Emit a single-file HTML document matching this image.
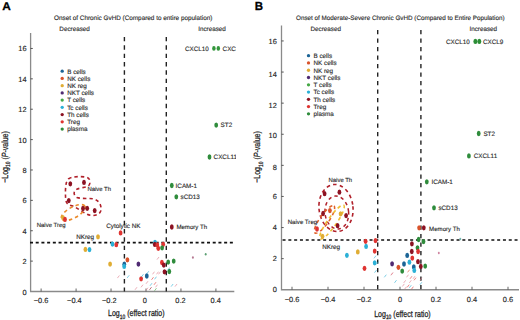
<!DOCTYPE html>
<html><head><meta charset="utf-8"><style>
html,body{margin:0;padding:0;background:#fff;width:520px;height:320px;overflow:hidden;position:relative;font-family:"Liberation Sans", sans-serif;}
</style></head><body>
<svg width="520" height="320" viewBox="0 0 520 320" text-rendering="geometricPrecision" style="position:absolute;left:0;top:0;font-family:'Liberation Sans', sans-serif">
<rect width="520" height="320" fill="#fff"/>
<g>
<path d="M30.6 33 V291.5 H234.3" fill="none" stroke="#8a8a8a" stroke-width="1.3"/>
<text x="26.6" y="294.5" font-size="7.4" text-anchor="end" fill="#222" stroke="#222" stroke-width="0.13">0</text>
<line x1="30.6" y1="261.12" x2="32.8" y2="261.12" stroke="#444" stroke-width="0.9"/>
<text x="26.6" y="264.12" font-size="7.4" text-anchor="end" fill="#222" stroke="#222" stroke-width="0.13">2</text>
<line x1="30.6" y1="230.74" x2="32.8" y2="230.74" stroke="#444" stroke-width="0.9"/>
<text x="26.6" y="233.74" font-size="7.4" text-anchor="end" fill="#222" stroke="#222" stroke-width="0.13">4</text>
<line x1="30.6" y1="200.36" x2="32.8" y2="200.36" stroke="#444" stroke-width="0.9"/>
<text x="26.6" y="203.36" font-size="7.4" text-anchor="end" fill="#222" stroke="#222" stroke-width="0.13">6</text>
<line x1="30.6" y1="169.98" x2="32.8" y2="169.98" stroke="#444" stroke-width="0.9"/>
<text x="26.6" y="172.98" font-size="7.4" text-anchor="end" fill="#222" stroke="#222" stroke-width="0.13">8</text>
<line x1="30.6" y1="139.6" x2="32.8" y2="139.6" stroke="#444" stroke-width="0.9"/>
<text x="26.6" y="142.6" font-size="7.4" text-anchor="end" fill="#222" stroke="#222" stroke-width="0.13">10</text>
<line x1="30.6" y1="109.22" x2="32.8" y2="109.22" stroke="#444" stroke-width="0.9"/>
<text x="26.6" y="112.22" font-size="7.4" text-anchor="end" fill="#222" stroke="#222" stroke-width="0.13">12</text>
<line x1="30.6" y1="78.84" x2="32.8" y2="78.84" stroke="#444" stroke-width="0.9"/>
<text x="26.6" y="81.84" font-size="7.4" text-anchor="end" fill="#222" stroke="#222" stroke-width="0.13">14</text>
<line x1="30.6" y1="48.46" x2="32.8" y2="48.46" stroke="#444" stroke-width="0.9"/>
<text x="26.6" y="51.46" font-size="7.4" text-anchor="end" fill="#222" stroke="#222" stroke-width="0.13">16</text>
<line x1="41.12" y1="291.5" x2="41.12" y2="288.5" stroke="#555" stroke-width="0.9"/>
<text x="41.1" y="302.5" font-size="7.4" text-anchor="middle" fill="#222" stroke="#222" stroke-width="0.13">−0.6</text>
<line x1="76.08" y1="291.5" x2="76.08" y2="288.5" stroke="#555" stroke-width="0.9"/>
<text x="74.4" y="302.5" font-size="7.4" text-anchor="middle" fill="#222" stroke="#222" stroke-width="0.13">−0.4</text>
<line x1="111.04" y1="291.5" x2="111.04" y2="288.5" stroke="#555" stroke-width="0.9"/>
<text x="109.3" y="302.5" font-size="7.4" text-anchor="middle" fill="#222" stroke="#222" stroke-width="0.13">−0.2</text>
<line x1="146.0" y1="291.5" x2="146.0" y2="288.5" stroke="#555" stroke-width="0.9"/>
<text x="144.75" y="302.5" font-size="7.4" text-anchor="middle" fill="#222" stroke="#222" stroke-width="0.13">0</text>
<line x1="180.96" y1="291.5" x2="180.96" y2="288.5" stroke="#555" stroke-width="0.9"/>
<text x="180.5" y="302.5" font-size="7.4" text-anchor="middle" fill="#222" stroke="#222" stroke-width="0.13">0.2</text>
<line x1="215.92" y1="291.5" x2="215.92" y2="288.5" stroke="#555" stroke-width="0.9"/>
<text x="215.75" y="302.5" font-size="7.4" text-anchor="middle" fill="#222" stroke="#222" stroke-width="0.13">0.4</text>
<line x1="124.4" y1="36.95" x2="124.4" y2="291.5" stroke="#222" stroke-width="1.4" stroke-dasharray="4.4 3.95"/>
<line x1="166.3" y1="36.95" x2="166.3" y2="291.5" stroke="#222" stroke-width="1.4" stroke-dasharray="4.4 3.95"/>
<line x1="30.0" y1="242.6" x2="233.2" y2="242.6" stroke="#111" stroke-width="1.6" stroke-dasharray="3 2.71"/>
</g>
<path d="M281.5 25.6 V289.75 H519" fill="none" stroke="#8a8a8a" stroke-width="1.3"/>
<text x="276.8" y="292.45" font-size="7.4" text-anchor="end" fill="#222" stroke="#222" stroke-width="0.13">0</text>
<line x1="281.5" y1="258.65" x2="283.7" y2="258.65" stroke="#444" stroke-width="0.9"/>
<text x="276.8" y="261.35" font-size="7.4" text-anchor="end" fill="#222" stroke="#222" stroke-width="0.13">2</text>
<line x1="281.5" y1="227.55" x2="283.7" y2="227.55" stroke="#444" stroke-width="0.9"/>
<text x="276.8" y="230.25" font-size="7.4" text-anchor="end" fill="#222" stroke="#222" stroke-width="0.13">4</text>
<line x1="281.5" y1="196.45" x2="283.7" y2="196.45" stroke="#444" stroke-width="0.9"/>
<text x="276.8" y="199.15" font-size="7.4" text-anchor="end" fill="#222" stroke="#222" stroke-width="0.13">6</text>
<line x1="281.5" y1="165.35" x2="283.7" y2="165.35" stroke="#444" stroke-width="0.9"/>
<text x="276.8" y="169.55" font-size="7.4" text-anchor="end" fill="#222" stroke="#222" stroke-width="0.13">8</text>
<line x1="281.5" y1="134.25" x2="283.7" y2="134.25" stroke="#444" stroke-width="0.9"/>
<text x="276.8" y="138.45" font-size="7.4" text-anchor="end" fill="#222" stroke="#222" stroke-width="0.13">10</text>
<line x1="281.5" y1="103.15" x2="283.7" y2="103.15" stroke="#444" stroke-width="0.9"/>
<text x="276.8" y="107.85" font-size="7.4" text-anchor="end" fill="#222" stroke="#222" stroke-width="0.13">12</text>
<line x1="281.5" y1="72.05" x2="283.7" y2="72.05" stroke="#444" stroke-width="0.9"/>
<text x="276.8" y="77.05" font-size="7.4" text-anchor="end" fill="#222" stroke="#222" stroke-width="0.13">14</text>
<line x1="281.5" y1="40.95" x2="283.7" y2="40.95" stroke="#444" stroke-width="0.9"/>
<text x="276.8" y="43.85" font-size="7.4" text-anchor="end" fill="#222" stroke="#222" stroke-width="0.13">16</text>
<line x1="292.0" y1="289.75" x2="292.0" y2="286.75" stroke="#555" stroke-width="0.9"/>
<text x="292.0" y="302.3" font-size="7.4" text-anchor="middle" fill="#222" stroke="#222" stroke-width="0.13">−0.6</text>
<line x1="328.0" y1="289.75" x2="328.0" y2="286.75" stroke="#555" stroke-width="0.9"/>
<text x="328.0" y="302.3" font-size="7.4" text-anchor="middle" fill="#222" stroke="#222" stroke-width="0.13">−0.4</text>
<line x1="364.0" y1="289.75" x2="364.0" y2="286.75" stroke="#555" stroke-width="0.9"/>
<text x="364.0" y="302.3" font-size="7.4" text-anchor="middle" fill="#222" stroke="#222" stroke-width="0.13">−0.2</text>
<line x1="400" y1="289.75" x2="400" y2="286.75" stroke="#555" stroke-width="0.9"/>
<text x="400" y="302.3" font-size="7.4" text-anchor="middle" fill="#222" stroke="#222" stroke-width="0.13">0</text>
<line x1="436.0" y1="289.75" x2="436.0" y2="286.75" stroke="#555" stroke-width="0.9"/>
<text x="436.0" y="302.3" font-size="7.4" text-anchor="middle" fill="#222" stroke="#222" stroke-width="0.13">0.2</text>
<line x1="472.0" y1="289.75" x2="472.0" y2="286.75" stroke="#555" stroke-width="0.9"/>
<text x="472.0" y="302.3" font-size="7.4" text-anchor="middle" fill="#222" stroke="#222" stroke-width="0.13">0.4</text>
<line x1="508.0" y1="289.75" x2="508.0" y2="286.75" stroke="#555" stroke-width="0.9"/>
<text x="508.0" y="302.3" font-size="7.4" text-anchor="middle" fill="#222" stroke="#222" stroke-width="0.13">0.6</text>
<line x1="377.7" y1="30.1" x2="377.7" y2="289.75" stroke="#222" stroke-width="1.4" stroke-dasharray="4.1 4.4"/>
<line x1="420.9" y1="30.1" x2="420.9" y2="289.75" stroke="#222" stroke-width="1.4" stroke-dasharray="4.1 4.4"/>
<line x1="282.55" y1="240.0" x2="520" y2="240.0" stroke="#111" stroke-width="1.6" stroke-dasharray="3 2.8"/>
<text transform="translate(2.2 9.9) scale(1.06 1)" font-size="11.2" font-weight="bold" fill="#000" stroke="#000" stroke-width="0.28">A</text>
<text transform="translate(254.7 10.1) scale(0.97 1)" font-size="11.8" font-weight="bold" fill="#000" stroke="#000" stroke-width="0.31">B</text>
<text x="133.2" y="19.5" font-size="6.37" text-anchor="middle" fill="#2b2b2b" stroke="#2b2b2b" stroke-width="0.13">Onset of Chronic GvHD (Compared to entire population)</text>
<text x="400.3" y="19.5" font-size="6.31" text-anchor="middle" fill="#2b2b2b" stroke="#2b2b2b" stroke-width="0.13">Onset of Moderate-Severe Chronic GvHD (Compared to Entire Population)</text>
<text x="74.6" y="31.1" font-size="6.3" text-anchor="middle" fill="#2b2b2b" stroke="#2b2b2b" stroke-width="0.13">Decreased</text>
<text x="212" y="31.1" font-size="6.3" text-anchor="middle" fill="#2b2b2b" stroke="#2b2b2b" stroke-width="0.13">Increased</text>
<text x="325.8" y="31.2" font-size="6.3" text-anchor="middle" fill="#2b2b2b" stroke="#2b2b2b" stroke-width="0.13">Decreased</text>
<text x="483.3" y="31.2" font-size="6.3" text-anchor="middle" fill="#2b2b2b" stroke="#2b2b2b" stroke-width="0.13">Increased</text>
<text transform="translate(136.3 316.3) scale(0.78 1)" font-size="9" text-anchor="middle" fill="#222" stroke="#222" stroke-width="0.26">Log<tspan font-size="6.3" dy="2.2">10</tspan><tspan dy="-2.2"> (effect ratio)</tspan></text>
<text transform="translate(402.4 316.5) scale(0.78 1)" font-size="9" text-anchor="middle" fill="#222" stroke="#222" stroke-width="0.26">Log<tspan font-size="6.3" dy="2.2">10</tspan><tspan dy="-2.2"> (effect ratio)</tspan></text>
<text transform="translate(7.7 157) rotate(-90) scale(0.78 1)" font-size="9" text-anchor="middle" fill="#222" stroke="#222" stroke-width="0.26">−Log<tspan font-size="6.3" dy="2.2">10</tspan><tspan dy="-2.2"> (</tspan><tspan font-style="italic">P</tspan>-value)</text>
<text transform="translate(260.3 157) rotate(-90) scale(0.78 1)" font-size="9" text-anchor="middle" fill="#222" stroke="#222" stroke-width="0.26">−Log<tspan font-size="6.3" dy="2.2">10</tspan><tspan dy="-2.2"> (</tspan><tspan font-style="italic">P</tspan>-value)</text>
<circle cx="62.2" cy="71.2" r="1.65" fill="#1b6496"/>
<text x="67.2" y="73.5" font-size="6.3" fill="#2b2b2b" stroke="#2b2b2b" stroke-width="0.13">B cells</text>
<circle cx="62.2" cy="78.43" r="1.65" fill="#d9532b"/>
<text x="67.2" y="80.73" font-size="6.3" fill="#2b2b2b" stroke="#2b2b2b" stroke-width="0.13">NK cells</text>
<circle cx="62.2" cy="85.66" r="1.65" fill="#e0ad34"/>
<text x="67.2" y="87.96" font-size="6.3" fill="#2b2b2b" stroke="#2b2b2b" stroke-width="0.13">NK reg</text>
<circle cx="62.2" cy="92.89" r="1.65" fill="#4f2a72"/>
<text x="67.2" y="95.19" font-size="6.3" fill="#2b2b2b" stroke="#2b2b2b" stroke-width="0.13">NKT cells</text>
<circle cx="62.2" cy="100.12" r="1.65" fill="#45a845"/>
<text x="67.2" y="102.42" font-size="6.3" fill="#2b2b2b" stroke="#2b2b2b" stroke-width="0.13">T cells</text>
<circle cx="62.2" cy="107.35" r="1.65" fill="#2bb0d6"/>
<text x="67.2" y="109.65" font-size="6.3" fill="#2b2b2b" stroke="#2b2b2b" stroke-width="0.13">Tc cells</text>
<circle cx="62.2" cy="114.58" r="1.65" fill="#8c1222"/>
<text x="67.2" y="116.88" font-size="6.3" fill="#2b2b2b" stroke="#2b2b2b" stroke-width="0.13">Th cells</text>
<circle cx="62.2" cy="121.81" r="1.65" fill="#df3431"/>
<text x="67.2" y="124.11" font-size="6.3" fill="#2b2b2b" stroke="#2b2b2b" stroke-width="0.13">Treg</text>
<circle cx="62.2" cy="129.04" r="1.65" fill="#2f8c3c"/>
<text x="67.2" y="131.34" font-size="6.3" fill="#2b2b2b" stroke="#2b2b2b" stroke-width="0.13">plasma</text>
<circle cx="308.5" cy="55.7" r="1.65" fill="#1b6496"/>
<text x="313.5" y="58.0" font-size="6.3" fill="#2b2b2b" stroke="#2b2b2b" stroke-width="0.13">B cells</text>
<circle cx="308.5" cy="62.97" r="1.65" fill="#d9532b"/>
<text x="313.5" y="65.27" font-size="6.3" fill="#2b2b2b" stroke="#2b2b2b" stroke-width="0.13">NK cells</text>
<circle cx="308.5" cy="70.24" r="1.65" fill="#e0ad34"/>
<text x="313.5" y="72.54" font-size="6.3" fill="#2b2b2b" stroke="#2b2b2b" stroke-width="0.13">NK reg</text>
<circle cx="308.5" cy="77.51" r="1.65" fill="#4f2a72"/>
<text x="313.5" y="79.81" font-size="6.3" fill="#2b2b2b" stroke="#2b2b2b" stroke-width="0.13">NKT cells</text>
<circle cx="308.5" cy="84.78" r="1.65" fill="#45a845"/>
<text x="313.5" y="87.08" font-size="6.3" fill="#2b2b2b" stroke="#2b2b2b" stroke-width="0.13">T cells</text>
<circle cx="308.5" cy="92.05" r="1.65" fill="#2bb0d6"/>
<text x="313.5" y="94.35" font-size="6.3" fill="#2b2b2b" stroke="#2b2b2b" stroke-width="0.13">Tc cells</text>
<circle cx="308.5" cy="99.32" r="1.65" fill="#8c1222"/>
<text x="313.5" y="101.62" font-size="6.3" fill="#2b2b2b" stroke="#2b2b2b" stroke-width="0.13">Th cells</text>
<circle cx="308.5" cy="106.59" r="1.65" fill="#df3431"/>
<text x="313.5" y="108.89" font-size="6.3" fill="#2b2b2b" stroke="#2b2b2b" stroke-width="0.13">Treg</text>
<circle cx="308.5" cy="113.86" r="1.65" fill="#2f8c3c"/>
<text x="313.5" y="116.16" font-size="6.3" fill="#2b2b2b" stroke="#2b2b2b" stroke-width="0.13">plasma</text>
<defs><clipPath id="ca"><rect x="0" y="0" width="236" height="320"/></clipPath></defs>
<g clip-path="url(#ca)">
<path d="M68.4 179 C72 176.5 80 176 86.5 177.2 C90.5 178.2 91 183.5 88.5 185.8 C86 187.5 80 187.6 76.5 189.4 C73 191.5 73.5 195.5 77 197.5 C81 199 88 198 93 198.8 C99 200 101.5 205 101 210 C100.5 214 96 216 91 215.4 C85 214.5 79 209 74 206.5 C70 205 66.5 205 65.8 200 C65.2 194 65.3 187 66.4 182.5 Z" fill="none" stroke="#b0202a" stroke-width="1.6" stroke-dasharray="3.4 3.0"/>
<ellipse cx="73.2" cy="212.6" rx="13.4" ry="5.4" transform="rotate(-29 73.2 212.6)" fill="none" stroke="#eb8a2a" stroke-width="1.6" stroke-dasharray="3.4 3.0"/>
<ellipse cx="216.2" cy="125.1" rx="1.9" ry="2.65" fill="#2f8c3c"/>
<ellipse cx="209.5" cy="157" rx="1.9" ry="2.65" fill="#2f8c3c"/>
<ellipse cx="171.8" cy="185.5" rx="1.9" ry="2.65" fill="#2f8c3c"/>
<ellipse cx="176.3" cy="196.8" rx="1.9" ry="2.65" fill="#2f8c3c"/>
<ellipse cx="171.8" cy="227" rx="1.9" ry="2.65" fill="#8c1222"/>
<ellipse cx="70.3" cy="183.8" rx="1.9" ry="2.65" fill="#8c1222"/>
<ellipse cx="84" cy="182.4" rx="1.9" ry="2.65" fill="#8c1222"/>
<ellipse cx="68.8" cy="200.6" rx="1.9" ry="2.65" fill="#8c1222"/>
<ellipse cx="83" cy="208.5" rx="1.9" ry="2.65" fill="#8c1222"/>
<ellipse cx="87.2" cy="208.3" rx="1.9" ry="2.65" fill="#8c1222"/>
<ellipse cx="94.7" cy="210.6" rx="1.9" ry="2.65" fill="#8c1222"/>
<ellipse cx="62.9" cy="217.6" rx="1.9" ry="2.65" fill="#e0ad34"/>
<ellipse cx="65" cy="219.4" rx="1.9" ry="2.65" fill="#df3431"/>
<ellipse cx="98" cy="236.8" rx="1.9" ry="2.65" fill="#e0ad34"/>
<ellipse cx="120.6" cy="232.9" rx="1.9" ry="2.65" fill="#df3431"/>
<ellipse cx="112.5" cy="244.1" rx="1.9" ry="2.65" fill="#2bb0d6"/>
<ellipse cx="116.3" cy="244.7" rx="1.9" ry="2.65" fill="#df3431"/>
<ellipse cx="85.4" cy="249.4" rx="1.9" ry="2.65" fill="#e0ad34"/>
<ellipse cx="89.5" cy="249.6" rx="1.9" ry="2.65" fill="#2bb0d6"/>
<ellipse cx="155.0" cy="242.4" rx="1.9" ry="2.65" fill="#2bb0d6"/>
<ellipse cx="154.8" cy="244.4" rx="1.9" ry="2.65" fill="#8c1222"/>
<ellipse cx="157.3" cy="245" rx="1.9" ry="2.65" fill="#df3431"/>
<ellipse cx="163.2" cy="244.3" rx="1.9" ry="2.65" fill="#df3431"/>
<ellipse cx="158.3" cy="248.3" rx="1.9" ry="2.65" fill="#df3431"/>
<ellipse cx="162.1" cy="247.8" rx="1.9" ry="2.65" fill="#2f8c3c"/>
<ellipse cx="127.4" cy="259.8" rx="1.9" ry="2.65" fill="#d9532b"/>
<ellipse cx="110.1" cy="264.1" rx="1.9" ry="2.65" fill="#e0ad34"/>
<ellipse cx="124.3" cy="264.2" rx="1.9" ry="2.65" fill="#1b6496"/>
<ellipse cx="124.2" cy="266.4" rx="1.9" ry="2.65" fill="#2bb0d6"/>
<ellipse cx="138.4" cy="264.1" rx="1.9" ry="2.65" fill="#4f2a72"/>
<ellipse cx="161.9" cy="262.5" rx="1.9" ry="2.65" fill="#df3431"/>
<ellipse cx="163.8" cy="265.1" rx="1.9" ry="2.65" fill="#8c1222"/>
<ellipse cx="168.2" cy="262.1" rx="1.9" ry="2.65" fill="#2f8c3c"/>
<ellipse cx="173.7" cy="261.1" rx="1.9" ry="2.65" fill="#2f8c3c"/>
<ellipse cx="164.5" cy="271.8" rx="1.9" ry="2.65" fill="#8c1222"/>
<ellipse cx="169.3" cy="271.5" rx="1.9" ry="2.65" fill="#2f8c3c"/>
<ellipse cx="141.1" cy="278.8" rx="1.9" ry="2.65" fill="#df3431"/>
<ellipse cx="146.8" cy="276" rx="1.9" ry="2.65" fill="#1b6496"/>
<ellipse cx="213.9" cy="48.4" rx="1.75" ry="2.45" fill="#34963c"/>
<ellipse cx="218.3" cy="48.4" rx="1.75" ry="2.45" fill="#34963c"/>
<line x1="117.4" y1="278.1" x2="119.4" y2="275.5" stroke="#e07a8a" stroke-width="0.8" opacity="0.75"/>
<line x1="127.2" y1="277.9" x2="129.2" y2="275.3" stroke="#2bb0d6" stroke-width="0.8" opacity="0.75"/>
<line x1="157.0" y1="259.6" x2="159.0" y2="257.0" stroke="#e07a8a" stroke-width="0.8" opacity="0.75"/>
<line x1="171.1" y1="286.6" x2="173.1" y2="284.0" stroke="#2bb0d6" stroke-width="0.8" opacity="0.75"/>
<line x1="175.0" y1="286.6" x2="177.0" y2="284.0" stroke="#e07a8a" stroke-width="0.8" opacity="0.75"/>
<line x1="152.5" y1="274.3" x2="154.5" y2="271.7" stroke="#e07a8a" stroke-width="0.8" opacity="0.75"/>
<line x1="156.5" y1="274.3" x2="158.5" y2="271.7" stroke="#e07a8a" stroke-width="0.8" opacity="0.75"/>
<line x1="151.5" y1="279.8" x2="153.5" y2="277.2" stroke="#df3431" stroke-width="0.8" opacity="0.75"/>
<line x1="154.5" y1="279.3" x2="156.5" y2="276.7" stroke="#2bb0d6" stroke-width="0.8" opacity="0.75"/>
<line x1="158.5" y1="274.3" x2="160.5" y2="271.7" stroke="#e07a8a" stroke-width="0.8" opacity="0.75"/>
<line x1="146.0" y1="283.8" x2="148.0" y2="281.2" stroke="#e07a8a" stroke-width="0.8" opacity="0.75"/>
<line x1="141.0" y1="287.3" x2="143.0" y2="284.7" stroke="#e07a8a" stroke-width="0.8" opacity="0.75"/>
<line x1="150.0" y1="285.8" x2="152.0" y2="283.2" stroke="#2bb0d6" stroke-width="0.8" opacity="0.75"/>
<line x1="154.0" y1="284.8" x2="156.0" y2="282.2" stroke="#df3431" stroke-width="0.8" opacity="0.75"/>
<line x1="155.5" y1="287.3" x2="157.5" y2="284.7" stroke="#e07a8a" stroke-width="0.8" opacity="0.75"/>
<line x1="146.0" y1="290.3" x2="148.0" y2="287.7" stroke="#e07a8a" stroke-width="0.8" opacity="0.75"/>
<line x1="149.5" y1="289.8" x2="151.5" y2="287.2" stroke="#8c1222" stroke-width="0.8" opacity="0.75"/>
<line x1="154.5" y1="290.8" x2="156.5" y2="288.2" stroke="#45a845" stroke-width="0.8" opacity="0.75"/>
<line x1="135.0" y1="289.8" x2="137.0" y2="287.2" stroke="#e07a8a" stroke-width="0.8" opacity="0.75"/>
<line x1="141.5" y1="276.8" x2="143.5" y2="274.2" stroke="#2bb0d6" stroke-width="0.8" opacity="0.75"/>
<line x1="146.8" y1="273.8" x2="148.8" y2="271.2" stroke="#2bb0d6" stroke-width="0.8" opacity="0.75"/>
<line x1="167.8" y1="270.1" x2="169.8" y2="267.5" stroke="#2bb0d6" stroke-width="0.8" opacity="0.75"/>
<ellipse cx="192.9" cy="257.4" rx="0.95" ry="1.25" fill="#a8607e" opacity="0.85"/>
<ellipse cx="205.7" cy="254.3" rx="0.95" ry="1.25" fill="#3f8f5a" opacity="0.85"/>
<text x="185" y="50.5" font-size="6.3" fill="#2b2b2b" stroke="#2b2b2b" stroke-width="0.13">CXCL10</text>
<text x="222.6" y="50.5" font-size="6.3" fill="#2b2b2b" stroke="#2b2b2b" stroke-width="0.13">CXCL9</text>
<text x="220.6" y="127.4" font-size="6.3" fill="#2b2b2b" stroke="#2b2b2b" stroke-width="0.13">ST2</text>
<text x="213.6" y="159.3" font-size="6.3" fill="#2b2b2b" stroke="#2b2b2b" stroke-width="0.13">CXCL11</text>
<text x="175.6" y="187.8" font-size="6.3" fill="#2b2b2b" stroke="#2b2b2b" stroke-width="0.13">ICAM-1</text>
<text x="180.6" y="199.1" font-size="6.3" fill="#2b2b2b" stroke="#2b2b2b" stroke-width="0.13">sCD13</text>
<text x="176.4" y="229.2" font-size="6.1" fill="#2b2b2b" stroke="#2b2b2b" stroke-width="0.13">Memory Th</text>
<text x="87.4" y="190.9" font-size="5.95" fill="#2b2b2b" stroke="#2b2b2b" stroke-width="0.13">Naive Th</text>
<text x="36.7" y="227.3" font-size="6.0" fill="#2b2b2b" stroke="#2b2b2b" stroke-width="0.13">Naive Treg</text>
<text x="76.2" y="238.6" font-size="6.3" fill="#2b2b2b" stroke="#2b2b2b" stroke-width="0.13">NKreg</text>
<text x="106.2" y="227.8" font-size="6.3" fill="#2b2b2b" stroke="#2b2b2b" stroke-width="0.13">Cytolytic NK</text>
</g>
<ellipse cx="336" cy="208" rx="17" ry="23.6" transform="rotate(-6 336 208)" fill="none" stroke="#b0202a" stroke-width="1.6" stroke-dasharray="3.6 3.2"/>
<ellipse cx="336.8" cy="212.5" rx="11.8" ry="16.5" transform="rotate(-6 336.8 212.5)" fill="none" stroke="#b0202a" stroke-width="1.5" stroke-dasharray="3.4 3.2"/>
<ellipse cx="324.5" cy="219.5" rx="16.5" ry="4.6" transform="rotate(-55 324.5 219.5)" fill="none" stroke="#e0622a" stroke-width="1.6" stroke-dasharray="3.4 3.2"/>
<ellipse cx="332" cy="222" rx="20.5" ry="4.5" transform="rotate(-55 332 222)" fill="none" stroke="#efbd35" stroke-width="1.6" stroke-dasharray="3.4 3.2"/>
<ellipse cx="478.7" cy="133.5" rx="1.9" ry="2.65" fill="#2f8c3c"/>
<ellipse cx="468.9" cy="155.9" rx="1.9" ry="2.65" fill="#2f8c3c"/>
<ellipse cx="426.8" cy="181.8" rx="1.9" ry="2.65" fill="#2f8c3c"/>
<ellipse cx="434" cy="207.8" rx="1.9" ry="2.65" fill="#2f8c3c"/>
<ellipse cx="419.1" cy="227.8" rx="1.9" ry="2.65" fill="#d9532b"/>
<ellipse cx="423.8" cy="227.8" rx="1.9" ry="2.65" fill="#8c1222"/>
<ellipse cx="324.6" cy="193.7" rx="1.9" ry="2.65" fill="#8c1222"/>
<ellipse cx="339.4" cy="192.2" rx="1.9" ry="2.65" fill="#8c1222"/>
<ellipse cx="323.1" cy="213.5" rx="1.9" ry="2.65" fill="#8c1222"/>
<ellipse cx="329.9" cy="210.6" rx="1.9" ry="2.65" fill="#d9532b"/>
<ellipse cx="340.6" cy="213.8" rx="1.9" ry="2.65" fill="#e0ad34"/>
<ellipse cx="346.1" cy="215.6" rx="1.9" ry="2.65" fill="#8c1222"/>
<ellipse cx="337.6" cy="225.7" rx="1.9" ry="2.65" fill="#8c1222"/>
<ellipse cx="317" cy="229" rx="1.9" ry="2.65" fill="#df3431"/>
<ellipse cx="322.5" cy="236.3" rx="1.9" ry="2.65" fill="#e0ad34"/>
<ellipse cx="365.6" cy="241.3" rx="1.9" ry="2.65" fill="#df3431"/>
<ellipse cx="375.5" cy="240.6" rx="1.9" ry="2.65" fill="#df3431"/>
<ellipse cx="366.1" cy="246.4" rx="1.9" ry="2.65" fill="#2bb0d6"/>
<ellipse cx="357.8" cy="251.9" rx="1.9" ry="2.65" fill="#e0ad34"/>
<ellipse cx="374.7" cy="251.1" rx="1.9" ry="2.65" fill="#df3431"/>
<ellipse cx="346.9" cy="255.3" rx="1.9" ry="2.65" fill="#2bb0d6"/>
<ellipse cx="374.7" cy="262.8" rx="1.9" ry="2.65" fill="#2bb0d6"/>
<ellipse cx="364.5" cy="268.3" rx="1.9" ry="2.65" fill="#df3431"/>
<ellipse cx="392.1" cy="263.8" rx="1.9" ry="2.65" fill="#4f2a72"/>
<ellipse cx="398.4" cy="267.3" rx="1.9" ry="2.65" fill="#d9532b"/>
<ellipse cx="404" cy="264" rx="1.9" ry="2.65" fill="#1b6496"/>
<ellipse cx="407.2" cy="255.4" rx="1.9" ry="2.65" fill="#1b6496"/>
<ellipse cx="409.4" cy="262.2" rx="1.9" ry="2.65" fill="#2bb0d6"/>
<ellipse cx="412.3" cy="258.1" rx="1.9" ry="2.65" fill="#df3431"/>
<ellipse cx="411.9" cy="243.8" rx="1.9" ry="2.65" fill="#8c1222"/>
<ellipse cx="411.8" cy="251.5" rx="1.9" ry="2.65" fill="#8c1222"/>
<ellipse cx="417.5" cy="247.8" rx="1.9" ry="2.65" fill="#2f8c3c"/>
<ellipse cx="418.1" cy="251.5" rx="1.9" ry="2.65" fill="#df3431"/>
<ellipse cx="418.6" cy="239.5" rx="1.9" ry="2.65" fill="#2f8c3c"/>
<ellipse cx="423.5" cy="241.6" rx="1.9" ry="2.65" fill="#2f8c3c"/>
<ellipse cx="418" cy="261.7" rx="1.9" ry="2.65" fill="#8c1222"/>
<ellipse cx="420.8" cy="266.4" rx="1.9" ry="2.65" fill="#8c1222"/>
<ellipse cx="425.2" cy="266.1" rx="1.9" ry="2.65" fill="#2f8c3c"/>
<ellipse cx="413.8" cy="266.9" rx="1.9" ry="2.65" fill="#1b6496"/>
<ellipse cx="414.3" cy="270.4" rx="1.9" ry="2.65" fill="#2bb0d6"/>
<ellipse cx="402.2" cy="271.1" rx="1.9" ry="2.65" fill="#2f8c3c"/>
<ellipse cx="475.4" cy="41.4" rx="2.0" ry="2.6" fill="#2c8e36"/>
<ellipse cx="479.3" cy="41.4" rx="2.0" ry="2.6" fill="#2c8e36"/>
<line x1="374.5" y1="272.7" x2="376.5" y2="270.1" stroke="#2bb0d6" stroke-width="0.8" opacity="0.75"/>
<line x1="384.3" y1="277.3" x2="386.3" y2="274.7" stroke="#2bb0d6" stroke-width="0.8" opacity="0.75"/>
<line x1="390.9" y1="275.1" x2="392.9" y2="272.5" stroke="#e07a8a" stroke-width="0.8" opacity="0.75"/>
<line x1="407.6" y1="272.3" x2="409.6" y2="269.7" stroke="#d9532b" stroke-width="0.8" opacity="0.75"/>
<line x1="391.0" y1="275.3" x2="393.0" y2="272.7" stroke="#e07a8a" stroke-width="0.8" opacity="0.75"/>
<line x1="406.5" y1="277.3" x2="408.5" y2="274.7" stroke="#e07a8a" stroke-width="0.8" opacity="0.75"/>
<line x1="410.0" y1="278.8" x2="412.0" y2="276.2" stroke="#df3431" stroke-width="0.8" opacity="0.75"/>
<line x1="413.0" y1="278.8" x2="415.0" y2="276.2" stroke="#e07a8a" stroke-width="0.8" opacity="0.75"/>
<line x1="414.0" y1="280.3" x2="416.0" y2="277.7" stroke="#df3431" stroke-width="0.8" opacity="0.75"/>
<line x1="394.5" y1="282.8" x2="396.5" y2="280.2" stroke="#2bb0d6" stroke-width="0.8" opacity="0.75"/>
<line x1="403.7" y1="282.9" x2="405.7" y2="280.3" stroke="#e07a8a" stroke-width="0.8" opacity="0.75"/>
<line x1="409.3" y1="282.9" x2="411.3" y2="280.3" stroke="#e07a8a" stroke-width="0.8" opacity="0.75"/>
<line x1="402.3" y1="286.5" x2="404.3" y2="283.9" stroke="#e07a8a" stroke-width="0.8" opacity="0.75"/>
<line x1="407.2" y1="287.3" x2="409.2" y2="284.7" stroke="#df3431" stroke-width="0.8" opacity="0.75"/>
<line x1="409.3" y1="287.8" x2="411.3" y2="285.2" stroke="#2bb0d6" stroke-width="0.8" opacity="0.75"/>
<line x1="404.5" y1="289.3" x2="406.5" y2="286.7" stroke="#e07a8a" stroke-width="0.8" opacity="0.75"/>
<line x1="411.4" y1="289.3" x2="413.4" y2="286.7" stroke="#df3431" stroke-width="0.8" opacity="0.75"/>
<line x1="419.9" y1="280.3" x2="421.9" y2="277.7" stroke="#e07a8a" stroke-width="0.8" opacity="0.75"/>
<line x1="419.9" y1="284.8" x2="421.9" y2="282.2" stroke="#2bb0d6" stroke-width="0.8" opacity="0.75"/>
<line x1="374.0" y1="258.3" x2="376.0" y2="255.7" stroke="#2bb0d6" stroke-width="0.8" opacity="0.75"/>
<line x1="376.5" y1="264.1" x2="378.5" y2="261.5" stroke="#2bb0d6" stroke-width="0.8" opacity="0.75"/>
<ellipse cx="438.8" cy="253.1" rx="0.95" ry="1.25" fill="#c87090" opacity="0.85"/>
<ellipse cx="460.3" cy="239.1" rx="0.95" ry="1.25" fill="#5aa8a0" opacity="0.85"/>
<text x="446" y="44" font-size="6.3" fill="#2b2b2b" stroke="#2b2b2b" stroke-width="0.13">CXCL10</text>
<text x="482.9" y="44" font-size="6.3" fill="#2b2b2b" stroke="#2b2b2b" stroke-width="0.13">CXCL9</text>
<text x="483.4" y="135.8" font-size="6.3" fill="#2b2b2b" stroke="#2b2b2b" stroke-width="0.13">ST2</text>
<text x="473.8" y="158.2" font-size="6.3" fill="#2b2b2b" stroke="#2b2b2b" stroke-width="0.13">CXCL11</text>
<text x="431.4" y="184.1" font-size="6.3" fill="#2b2b2b" stroke="#2b2b2b" stroke-width="0.13">ICAM-1</text>
<text x="438.4" y="210.1" font-size="6.3" fill="#2b2b2b" stroke="#2b2b2b" stroke-width="0.13">sCD13</text>
<text x="429.1" y="230.7" font-size="6.1" fill="#2b2b2b" stroke="#2b2b2b" stroke-width="0.13">Memory Th</text>
<text x="328.5" y="181.7" font-size="5.95" fill="#2b2b2b" stroke="#2b2b2b" stroke-width="0.13">Naive Th</text>
<text x="287.7" y="223.8" font-size="6.1" fill="#2b2b2b" stroke="#2b2b2b" stroke-width="0.13">Naive Treg</text>
<text x="322.2" y="249.4" font-size="6.3" fill="#2b2b2b" stroke="#2b2b2b" stroke-width="0.13">NKreg</text>
</svg>
</body></html>
